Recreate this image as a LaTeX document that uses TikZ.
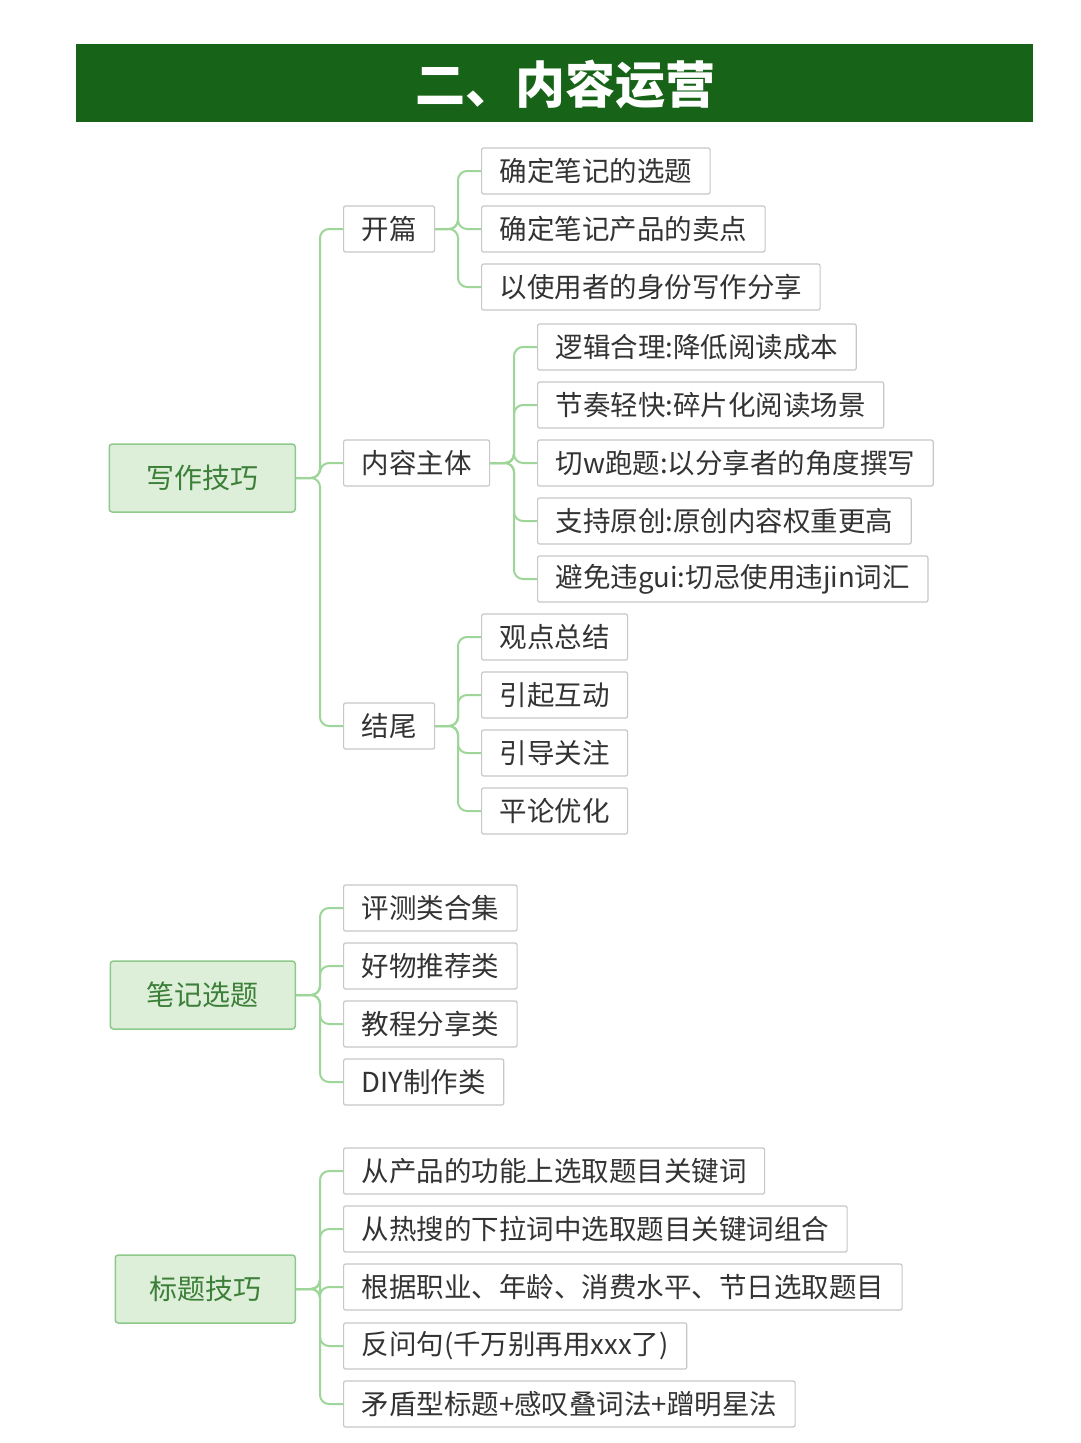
\documentclass[tikz,border=0pt]{standalone}
\usepackage{fontspec}
\setmainfont{Noto Sans CJK SC}
\definecolor{hdr}{HTML}{176317}
\definecolor{rootfill}{HTML}{DDEFD9}
\definecolor{rootdraw}{HTML}{8CC98A}
\definecolor{roottext}{HTML}{3C7F38}
\definecolor{lnk}{HTML}{9ED69A}
\begin{document}
\begin{tikzpicture}[x=1pt,y=-1pt,
  leaf/.style={draw=black!22,line width=1.2pt,rounded corners=2pt,fill=white,inner xsep=18pt,minimum height=46pt,font=\fontsize{27.5}{30}\selectfont,text=black!80,anchor=west},
  root/.style={draw=rootdraw,line width=1.5pt,rounded corners=3pt,fill=rootfill,minimum height=68pt,font=\fontsize{28}{32}\selectfont,text=roottext,anchor=east},
  conn/.style={draw=lnk,line width=2pt,rounded corners=9pt}]
\useasboundingbox (0,0) rectangle (1080,1443);
\fill[white] (0,0) rectangle (1080,1443);
\fill[hdr] (76,44) rectangle (1033,122);
\node[font=\fontsize{50}{56}\selectfont\bfseries,text=white] (title) at (565,85) {二、内容运营};

\node[root,minimum width=186pt] (r1) at (296,478) {写作技巧};
\node[root,minimum width=185pt] (r2) at (296,995) {笔记选题};
\node[root,minimum width=180pt] (r3) at (296,1289) {标题技巧};

\node[leaf] (k) at (343,229) {开篇};
\node[leaf] (n) at (343,463) {内容主体};
\node[leaf] (j) at (343,726) {结尾};

\node[leaf] (k1) at (481,171) {确定笔记的选题};
\node[leaf] (k2) at (481,229) {确定笔记产品的卖点};
\node[leaf] (k3) at (481,287) {以使用者的身份写作分享};

\node[leaf] (n1) at (537,347) {逻辑合理:降低阅读成本};
\node[leaf] (n2) at (537,405) {节奏轻快:碎片化阅读场景};
\node[leaf] (n3) at (537,463) {切w跑题:以分享者的角度撰写};
\node[leaf] (n4) at (537,521) {支持原创:原创内容权重更高};
\node[leaf] (n5) at (537,579) {避免违gui:切忌使用违jin词汇};

\node[leaf] (j1) at (481,637) {观点总结};
\node[leaf] (j2) at (481,695) {引起互动};
\node[leaf] (j3) at (481,753) {引导关注};
\node[leaf] (j4) at (481,811) {平论优化};

\node[leaf] (b1) at (343,908) {评测类合集};
\node[leaf] (b2) at (343,966) {好物推荐类};
\node[leaf] (b3) at (343,1024) {教程分享类};
\node[leaf] (b4) at (343,1082) {DIY制作类};

\node[leaf] (t1) at (343,1171) {从产品的功能上选取题目关键词};
\node[leaf] (t2) at (343,1229) {从热搜的下拉词中选取题目关键词组合};
\node[leaf] (t3) at (343,1287) {根据职业、年龄、消费水平、节日选取题目};
\node[leaf] (t4) at (343,1346) {反问句(千万别再用xxx了)};
\node[leaf] (t5) at (343,1404) {矛盾型标题+感叹叠词法+蹭明星法};

\foreach \p/\cs in {r1/{k,n,j},k/{k1,k2,k3},n/{n1,n2,n3,n4,n5},j/{j1,j2,j3,j4},r2/{b1,b2,b3,b4},r3/{t1,t2,t3,t4,t5}}
  \foreach \c in \cs
    \draw[conn] (\p.east) -| ([xshift=-23pt]\c.west) -- (\c.west);
\end{tikzpicture}
\end{document}
